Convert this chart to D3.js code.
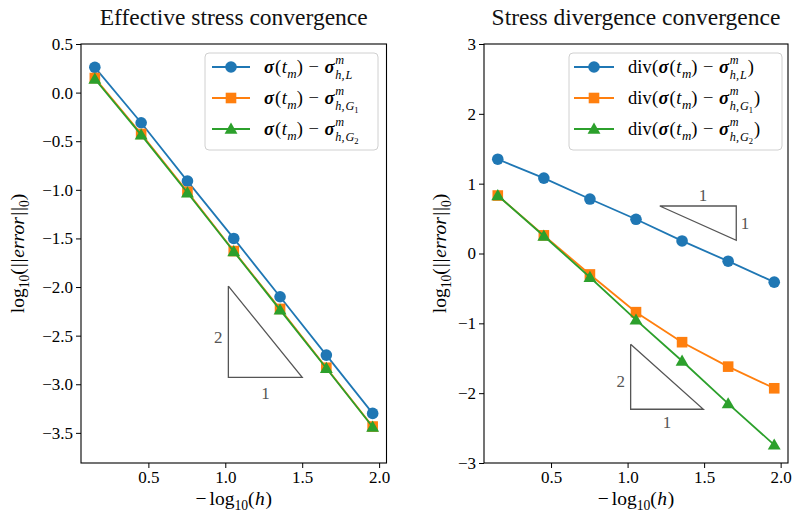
<!DOCTYPE html>
<html><head><meta charset="utf-8">
<script src="https://cdn.jsdelivr.net/npm/d3@7"></script>
<style>
body{margin:0;background:#fff;}
text{font-family:'Liberation Serif','Times New Roman',serif;white-space:pre;}
</style></head>
<body><svg id="chart" width="793" height="515"></svg>
<script>
// ---------- data ----------
const xVals = [0.152, 0.453, 0.754, 1.055, 1.356, 1.657, 1.958];

const leftBlue   = [0.26, -0.31, -0.91, -1.50, -2.10, -2.70, -3.30];
const leftOrange = [0.15, -0.425, -1.02, -1.63, -2.225, -2.83, -3.435];
const leftGreen  = [0.14, -0.435, -1.03, -1.635, -2.235, -2.835, -3.44];

const rightBlue   = [1.35, 1.08, 0.78, 0.49, 0.18, -0.11, -0.41];
const rightOrange = [0.83, 0.26, -0.30, -0.84, -1.27, -1.62, -1.93];
const rightGreen  = [0.83, 0.25, -0.34, -0.95, -1.54, -2.15, -2.74];

const xTicks = [0.5, 1.0, 1.5, 2.0];
const leftYTicks = [0.5, 0.0, -0.5, -1.0, -1.5, -2.0, -2.5, -3.0, -3.5];
const rightYTicks = [3, 2, 1, 0, -1, -2, -3];

const titles = ["Effective stress convergence", "Stress divergence convergence"];

// slope triangles: [x0, x1, yTop, yBottom, kind]
const leftTriangles  = [[1.02, 1.50, -1.99, -2.93, "down"]];
const rightTriangles = [[1.02, 1.495, -1.30, -2.23, "down"], [1.21, 1.71, 0.68, 0.19, "up"]];
// triangle labels: [x, y, text]
const leftTriLabels  = [[0.955, -2.51, "2"], [1.262, -3.09, "1"]];
const rightTriLabels = [[0.955, -1.83, "2"], [1.258, -2.42, "1"], [1.493, 0.83, "1"], [1.767, 0.43, "1"]];

// ---------- helpers ----------
const svg = d3.select("#chart");
const colors = ["#1f77b4", "#ff7f0e", "#2ca02c"];
const markers = ["circle", "square", "triangle"];
const gray = "#555";
const fam = "'Liberation Serif','Times New Roman',serif";

function mathRow(parent, x, y, items, size) {
  let cx = x;
  for (const it of items) {
    if (it.stack) {
      const w1 = mathRow(parent, cx, y - size * 0.46, it.stack[0], size * 0.66);
      const w2 = mathRow(parent, cx, y + size * 0.32, it.stack[1], size * 0.66);
      cx += Math.max(w1, w2);
    } else if (it.sub) {
      cx += mathRow(parent, cx, y + size * 0.28, it.sub, size * 0.7);
    } else {
      cx += (it.padL || 0) * size;
      const t = parent.append("text").attr("x", cx).attr("y", y)
        .attr("font-size", size).attr("fill", it.c || "#000")
        .style("font-style", it.i ? "italic" : "normal")
        .style("font-weight", it.b ? "bold" : "normal").text(it.t);
      cx += t.node().getComputedTextLength() + (it.pad || 0) * size;
    }
  }
  return cx - x;
}

function marker(g, type, cx, cy, color) {
  if (type === "circle") {
    g.append("circle").attr("cx", cx).attr("cy", cy).attr("r", 5.8).attr("fill", color);
  } else if (type === "square") {
    g.append("rect").attr("x", cx - 5.3).attr("y", cy - 5.3).attr("width", 10.6).attr("height", 10.6).attr("fill", color);
  } else {
    g.append("path").attr("d", d3.symbol(d3.symbolTriangle, 72)()).attr("transform", `translate(${cx},${cy + 1})`).attr("fill", color);
  }
}

const sigmaB = {t: "σ", i: true, b: true, pad: 0.05};
function lbl(sub, div) {
  const subItems = sub === "L" ? [{t: "h,", i: true, pad: 0.08}, {t: "L", i: true}]
    : [{t: "h,", i: true, pad: 0.08}, {t: "G", i: true}, {sub: [{t: sub}]}];
  const core = [sigmaB, {t: "(", pad: 0.03}, {t: "t", i: true, pad: 0.03}, {sub: [{t: "m", i: true}]}, {t: ")"},
    {t: "−", padL: 0.3, pad: 0.3}, sigmaB,
    {stack: [[{t: "m", i: true}], subItems]}];
  return div ? [{t: "div", pad: 0.02}, {t: "(", pad: 0.02}, ...core, {t: ")", padL: 0.05}] : core;
}

function panel(cfg) {
  const {left, right, top, bottom, xDomain, yDomain, series, yTicks, yFmt, title, tris, triLabels, legend, div} = cfg;
  const x = d3.scaleLinear().domain(xDomain).range([left, right]);
  const y = d3.scaleLinear().domain(yDomain).range([bottom, top]);
  const g = svg.append("g");

  // axes
  const xa = g.append("g").attr("transform", `translate(0,${bottom})`)
    .call(d3.axisBottom(x).tickValues(xTicks).tickFormat(d3.format(".1f")).tickSize(5).tickPadding(3));
  const ya = g.append("g").attr("transform", `translate(${left},0)`)
    .call(d3.axisLeft(y).tickValues(yTicks).tickFormat(d => yFmt(d).replace("-", "−")).tickSize(5).tickPadding(3));
  [xa, ya].forEach(a => {
    a.select(".domain").remove();
    a.selectAll("text").attr("font-size", 17).attr("font-family", fam).attr("fill", "#000");
    a.selectAll("line").attr("stroke", "#000").attr("stroke-width", 1);
  });

  // triangles
  tris.forEach(([x0, x1, yT, yB, kind]) => {
    const pts = kind === "down"
      ? [[x0, yT], [x0, yB], [x1, yB], [x0, yT]]
      : [[x0, yT], [x1, yT], [x1, yB], [x0, yT]];
    g.append("path").attr("d", d3.line().x(p => x(p[0])).y(p => y(p[1]))(pts))
      .attr("fill", "none").attr("stroke", gray).attr("stroke-width", 1.3);
  });
  triLabels.forEach(([lx, ly, t]) => {
    g.append("text").attr("x", x(lx)).attr("y", y(ly)).attr("dy", "0.35em")
      .attr("text-anchor", "middle").attr("font-size", 17).attr("fill", gray).text(t);
  });

  // series
  series.forEach((vals, k) => {
    const pts = xVals.map((xv, i) => [xv, vals[i]]);
    g.append("path").attr("d", d3.line().x(p => x(p[0])).y(p => y(p[1]))(pts))
      .attr("fill", "none").attr("stroke", colors[k]).attr("stroke-width", 1.8);
    pts.forEach(p => marker(g, markers[k], x(p[0]), y(p[1]), colors[k]));
  });

  // frame
  g.append("rect").attr("x", left).attr("y", top).attr("width", right - left).attr("height", bottom - top)
    .attr("fill", "none").attr("stroke", "#000").attr("stroke-width", 1.1);

  // title
  g.append("text").attr("x", (left + right) / 2).attr("y", 25).attr("text-anchor", "middle")
    .attr("font-size", 23.5).attr("fill", "#111").text(title);

  // x label
  const xl = g.append("g");
  const wx = mathRow(xl, 0, 0, [{t: "−", pad: 0.15}, {t: "log"}, {sub: [{t: "10"}]}, {t: "(", pad: 0.02}, {t: "h", i: true, pad: 0.04}, {t: ")"}], 19.5);
  xl.attr("transform", `translate(${(left + right) / 2 - wx / 2},505)`);

  // y label
  const yl = g.append("g");
  const wy = mathRow(yl, 0, 0, [{t: "log"}, {sub: [{t: "10"}]}, {t: "(", pad: 0.05}, {t: "|", pad: 0.04}, {t: "|", pad: 0.05},
    {t: "error", i: true, pad: 0.08}, {t: "|", pad: 0.04}, {t: "|"}, {sub: [{t: "0"}]}, {t: ")"}], 19.5);
  yl.attr("transform", `translate(${cfg.yLabelX},${(top + bottom) / 2}) rotate(-90) translate(${-wy / 2},0)`);

  // legend
  const lg = g.append("g");
  lg.append("rect").attr("x", legend.x0).attr("y", legend.y0).attr("width", legend.x1 - legend.x0)
    .attr("height", legend.y1 - legend.y0).attr("rx", 4)
    .attr("fill", "#fff").attr("fill-opacity", 0.8).attr("stroke", "#d0d0d0").attr("stroke-width", 1);
  ["L", "1", "2"].forEach((s, k) => {
    const ly = legend.rows[k];
    lg.append("line").attr("x1", legend.lx0).attr("x2", legend.lx1).attr("y1", ly).attr("y2", ly)
      .attr("stroke", colors[k]).attr("stroke-width", 1.8);
    marker(lg, markers[k], (legend.lx0 + legend.lx1) / 2, ly, colors[k]);
    mathRow(lg, legend.tx, ly + 6, lbl(s, div), 18.5);
  });
}

panel({
  left: 81, right: 386.5, top: 44, bottom: 463,
  xDomain: [0.062, 2.048], yDomain: [-3.81, 0.5],
  series: [leftBlue, leftOrange, leftGreen], yTicks: leftYTicks, yFmt: d3.format(".1f"),
  title: titles[0], tris: leftTriangles, triLabels: leftTriLabels, yLabelX: 24, div: false,
  legend: {x0: 205, x1: 378, y0: 53, y1: 150, lx0: 212, lx1: 250, tx: 264, rows: [67, 98, 129]}
});
panel({
  left: 484, right: 788, top: 44, bottom: 463,
  xDomain: [0.062, 2.048], yDomain: [-3, 3],
  series: [rightBlue, rightOrange, rightGreen], yTicks: rightYTicks, yFmt: d3.format("d"),
  title: titles[1], tris: rightTriangles, triLabels: rightTriLabels, yLabelX: 446, div: true,
  legend: {x0: 569, x1: 782, y0: 53, y1: 150, lx0: 574, lx1: 614, tx: 628, rows: [67, 98, 129]}
});
</script>
</body></html>
